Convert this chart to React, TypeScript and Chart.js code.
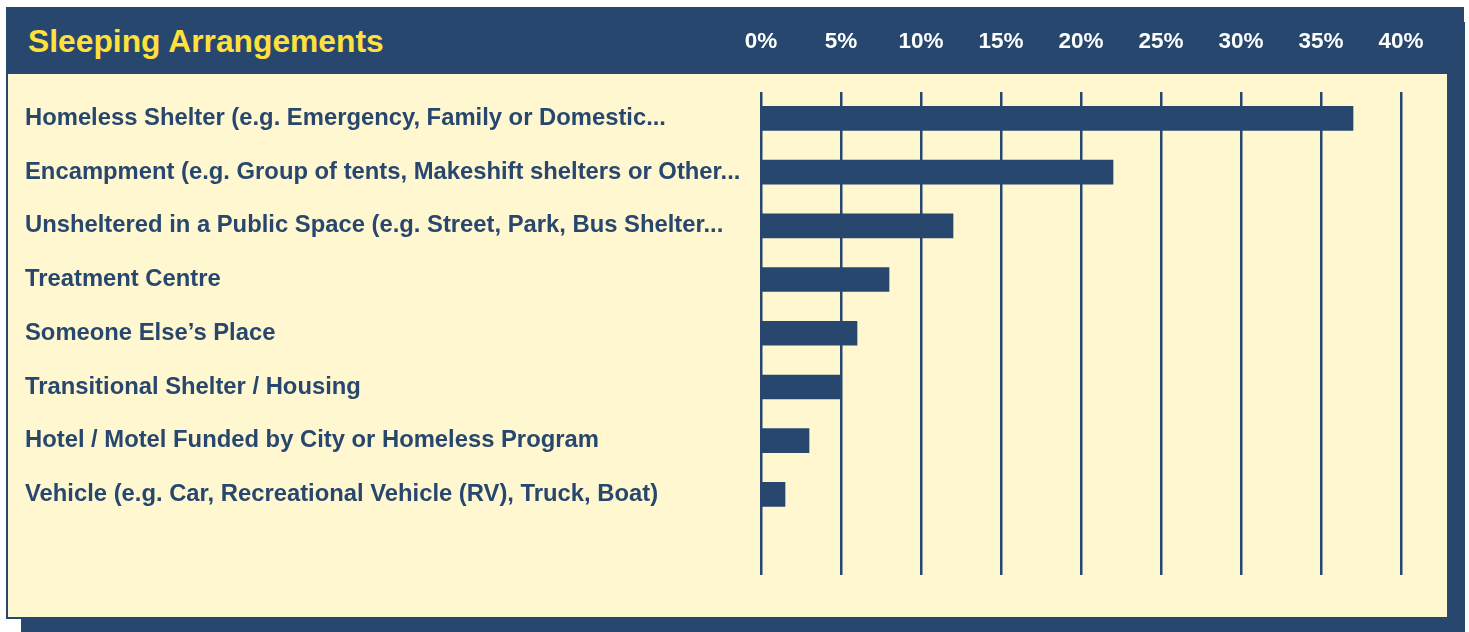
import { useEffect, useRef } from 'react';
import { Chart, registerables } from 'chart.js';

Chart.register(...registerables);

const chartTitle = 'Sleeping Arrangements';

const categories = [
  'Homeless Shelter (e.g. Emergency, Family or Domestic...',
  'Encampment (e.g. Group of tents, Makeshift shelters or Other...',
  'Unsheltered in a Public Space (e.g. Street, Park, Bus Shelter...',
  'Treatment Centre',
  'Someone Else\u2019s Place',
  'Transitional Shelter / Housing',
  'Hotel / Motel Funded by City or Homeless Program',
  'Vehicle (e.g. Car, Recreational Vehicle (RV), Truck, Boat)',
  '',
];

const shares: (number | null)[] = [37, 22, 12, 8, 6, 5, 3, 1.5, null];

const tickValues = [0, 5, 10, 15, 20, 25, 30, 35, 40];

const NAVY = '#27476E';
const CREAM = '#FFF7D0';
const YELLOW = '#FFE03C';
const FONT = '"Liberation Sans", Arial, Helvetica, sans-serif';

export default function App() {
  const ref = useRef<HTMLCanvasElement>(null);

  useEffect(() => {
    const chart = new Chart(ref.current!, {
      type: 'bar',
      data: {
        labels: categories,
        datasets: [
          {
            data: shares,
            backgroundColor: NAVY,
            borderWidth: 0,
            barThickness: 24,
          },
        ],
      },
      options: {
        indexAxis: 'y',
        animation: false,
        responsive: false,
        maintainAspectRatio: false,
        layout: { padding: { top: 29.5, left: 25, right: 68, bottom: 57 } },
        plugins: {
          legend: { display: false },
          tooltip: { enabled: false },
          title: { display: false },
        },
        scales: {
          x: {
            position: 'top',
            min: 0,
            max: 40,
            afterBuildTicks: (s: any) => {
              s.ticks = tickValues.map((v) => ({ value: v }));
            },
            afterFit: (s: any) => {
              s.height = 62;
            },
            ticks: {
              color: '#FFFFFF',
              font: { family: FONT, size: 22.5, weight: 'bold' },
              padding: 36,
              callback: (v: any) => v + '%',
            },
            grid: { color: NAVY, lineWidth: 2.5, drawTicks: false },
            border: { display: false },
          },
          y: {
            afterFit: (s: any) => {
              s.width = 736;
            },
            ticks: {
              color: NAVY,
              crossAlign: 'far',
              autoSkip: false,
              padding: 0,
              font: { family: FONT, size: 23.8, weight: 'bold' },
            },
            grid: { display: false },
            border: { display: false },
          },
        },
      } as any,
    });
    return () => chart.destroy();
  }, []);

  return (
    <div
      style={{
        position: 'absolute',
        left: 0,
        top: 0,
        width: 1469,
        height: 632,
        overflow: 'hidden',
        background: '#FFFFFF',
      }}
    >
      <div style={{ position: 'absolute', left: 21, top: 22, width: 1444, height: 620, background: NAVY }} />
      <div style={{ position: 'absolute', left: 6, top: 7, width: 1458, height: 67, background: NAVY }} />
      <div
        style={{
          position: 'absolute',
          left: 6,
          top: 74,
          width: 1443,
          height: 545,
          boxSizing: 'border-box',
          background: CREAM,
          borderLeft: `2.5px solid ${NAVY}`,
          borderRight: `2.5px solid ${NAVY}`,
          borderBottom: `2.5px solid ${NAVY}`,
        }}
      />
      <div
        style={{
          position: 'absolute',
          left: 28,
          top: 26,
          fontFamily: FONT,
          fontWeight: 'bold',
          fontSize: 31.8,
          lineHeight: '31px',
          color: YELLOW,
          whiteSpace: 'nowrap',
        }}
      >
        {chartTitle}
      </div>
      <canvas
        ref={ref}
        width={1469}
        height={632}
        style={{ position: 'absolute', left: 0, top: 0, width: 1469, height: 632, display: 'block' }}
      />
    </div>
  );
}
